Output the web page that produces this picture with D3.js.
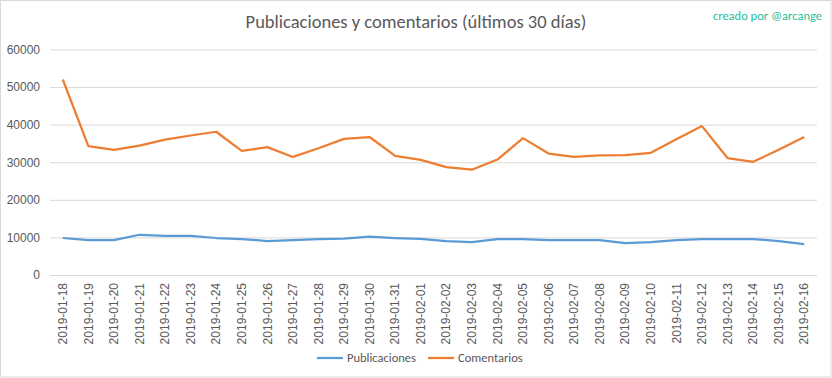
<!DOCTYPE html>
<html>
<head>
<meta charset="utf-8">
<script src="https://cdn.jsdelivr.net/npm/d3@7"></script>
<style>
  body { margin: 0; background: #fff; }
  svg { display: block; font-family: Calibri, Carlito, 'Open Sans', 'Liberation Sans', sans-serif; }
</style>
</head>
<body>
<div id="chart"></div>
<script>
const dates = ['2019-01-18','2019-01-19','2019-01-20','2019-01-21','2019-01-22','2019-01-23','2019-01-24','2019-01-25','2019-01-26','2019-01-27','2019-01-28','2019-01-29','2019-01-30','2019-01-31','2019-02-01','2019-02-02','2019-02-03','2019-02-04','2019-02-05','2019-02-06','2019-02-07','2019-02-08','2019-02-09','2019-02-10','2019-02-11','2019-02-12','2019-02-13','2019-02-14','2019-02-15','2019-02-16']
const publicaciones = [9840,9300,9300,10700,10400,10400,9840,9570,9040,9300,9570,9650,10200,9840,9600,9040,8770,9570,9570,9300,9300,9300,8500,8770,9300,9570,9570,9570,9040,8240]
const comentarios = [52000,34300,33250,34400,36000,37100,38100,33000,34000,31400,33700,36200,36700,31700,30600,28700,28000,30700,36400,32300,31400,31800,31900,32500,36100,39600,31100,30100,33300,36700]
const yTicks = [0,10000,20000,30000,40000,50000,60000]
const series = [
  {name: 'Publicaciones', values: publicaciones, color: '#5b9bd5'},
  {name: 'Comentarios', values: comentarios, color: '#ed7d31'}
]

const width = 832, height = 378
const textColor = '#595959'
const plot = {left: 50, right: 817, top: 49.4, bottom: 275}

var svg = d3.select('#chart').append('svg')
  .attr('width', width)
  .attr('height', height)

// chart border
svg.append('rect')
  .attr('x', 0.5).attr('y', 0.5)
  .attr('width', width - 1.5).attr('height', height - 1.5)
  .style('fill', 'white')
  .style('stroke', '#d9d9d9')

var x = d3.scaleBand()
  .domain(dates)
  .range([plot.left, plot.right])
var y = d3.scaleLinear()
  .domain([0, 60000])
  .range([plot.bottom, plot.top])

// gridlines + y labels
var gy = svg.append('g')
  .attr('transform', 'translate(' + plot.left + ',0)')
  .call(d3.axisLeft(y).tickValues(yTicks).tickSize(-(plot.right - plot.left)).tickPadding(10).tickFormat(d3.format('d')))
gy.select('.domain').remove()
gy.selectAll('line').style('stroke', '#d9d9d9')
gy.selectAll('text').style('fill', textColor).style('font-size', '12px')

// x labels, rotated
var gx = svg.append('g')
  .attr('transform', 'translate(0,' + plot.bottom + ')')
  .call(d3.axisBottom(x).tickSize(0))
gx.select('.domain').remove()
gx.selectAll('text')
  .style('fill', textColor)
  .style('font-size', '12px')
  .attr('text-anchor', 'end')
  .attr('transform', 'rotate(-90)')
  .attr('x', -8)
  .attr('y', 0)
  .attr('dy', '0.35em')

// lines
var line = d3.line()
  .x((d, i) => x(dates[i]) + x.bandwidth() / 2)
  .y(d => y(d))
series.forEach(s => {
  svg.append('path')
    .datum(s.values)
    .attr('d', line)
    .style('fill', 'none')
    .style('stroke', s.color)
    .style('stroke-width', 2.25)
    .style('stroke-linejoin', 'round')
})

// title + watermark
svg.append('text')
  .attr('x', 416).attr('y', 28)
  .attr('text-anchor', 'middle')
  .style('font-size', '18.5px')
  .style('fill', textColor)
  .text('Publicaciones y comentarios (últimos 30 días)')
svg.append('text')
  .attr('x', 822).attr('y', 20)
  .attr('text-anchor', 'end')
  .style('font-size', '12.5px')
  .style('fill', '#1fbf9c')
  .text('creado por @arcange')

// legend
var legendX = [317, 428]
var lg = svg.selectAll('.legend')
  .data(series)
  .enter()
  .append('g')
  .attr('class', 'legend')
  .attr('transform', (d, i) => 'translate(' + legendX[i] + ',358)')
lg.append('line')
  .attr('x1', 0).attr('x2', 26)
  .style('stroke', d => d.color)
  .style('stroke-width', 2.25)
lg.append('text')
  .attr('x', 30).attr('dy', '0.35em')
  .style('font-size', '12.5px')
  .style('fill', textColor)
  .text(d => d.name)
</script>
</body>
</html>
